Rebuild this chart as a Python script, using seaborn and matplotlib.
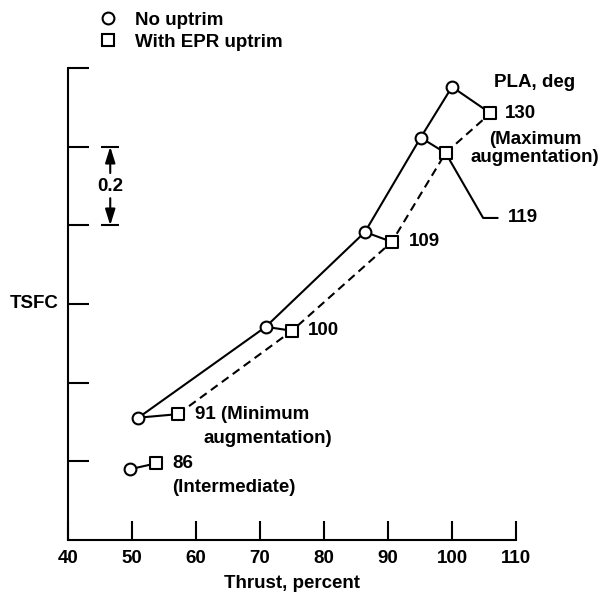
import matplotlib
matplotlib.use("Agg")
import matplotlib.pyplot as plt
import numpy as np
import pandas as pd
import seaborn as sns
from matplotlib.lines import Line2D

# ---------------- data ----------------
pla = [86, 91, 100, 109, 119, 130]
thrust_no_uptrim = [49.7, 51.0, 70.9, 86.4, 95.1, 100.0]
tsfc_no_uptrim = [0.180, 0.311, 0.542, 0.783, 1.023, 1.152]
thrust_epr_uptrim = [53.8, 57.2, 75.0, 90.6, 99.0, 106.0]
tsfc_epr_uptrim = [0.195, 0.320, 0.532, 0.758, 0.984, 1.085]
series_names = ["No uptrim", "With EPR uptrim"]
x_ticks = [40, 50, 60, 70, 80, 90, 100, 110]
y_ticks = [0.2, 0.4, 0.6, 0.8, 1.0, 1.2]

sns.set_theme(style="white")
plt.rcParams["font.family"] = ["Liberation Sans", "DejaVu Sans"]
plt.rcParams["font.weight"] = "bold"
plt.rcParams["axes.labelweight"] = "bold"
plt.rcParams["text.color"] = "black"
plt.rcParams["axes.labelcolor"] = "black"
plt.rcParams["xtick.color"] = "black"
plt.rcParams["ytick.color"] = "black"

df = pd.DataFrame({
    "pla": pla + pla,
    "thrust": thrust_no_uptrim + thrust_epr_uptrim,
    "tsfc": tsfc_no_uptrim + tsfc_epr_uptrim,
    "series": [series_names[0]] * len(pla) + [series_names[1]] * len(pla),
})

FS = 13.5
LW = 1.5
W, H = 603, 592
fig = plt.figure(figsize=(W / 100, H / 100), dpi=100)
ax = fig.add_axes([68 / W, 1 - 540 / H, 448 / W, 472 / H])

# main curves (augmented range, PLA >= 91)
main = df[df["pla"] >= 91]
sns.lineplot(data=main, x="thrust", y="tsfc", hue="series", style="series",
             palette={series_names[0]: "black", series_names[1]: "black"},
             dashes={series_names[0]: "", series_names[1]: (4, 2.5)},
             sort=False, estimator=None, legend=False, lw=LW, ax=ax)
# connectors between the two settings at each PLA
sns.lineplot(data=df, x="thrust", y="tsfc", units="pla", estimator=None,
             sort=False, color="black", lw=LW, legend=False, ax=ax)
# markers
for name, mk in zip(series_names, ["o", "s"]):
    sns.scatterplot(data=df[df["series"] == name], x="thrust", y="tsfc",
                    marker=mk, s=72, facecolor="white", edgecolor="black",
                    linewidth=LW, zorder=5, legend=False, ax=ax)

ax.set_xlim(40, 110)
ax.set_ylim(0, 1.2)
ax.set_xticks(x_ticks)
ax.set_xticklabels([str(t) for t in x_ticks], fontsize=FS, fontweight="bold")
ax.set_yticks(y_ticks)
ax.tick_params(axis="x", which="major", bottom=True, direction="in",
               length=13.7, width=LW, pad=7, colors="black")
ax.tick_params(axis="y", which="major", left=True, direction="in",
               length=15, width=LW, labelleft=False, colors="black")
for s in ["top", "right"]:
    ax.spines[s].set_visible(False)
for s in ["left", "bottom"]:
    ax.spines[s].set_linewidth(LW)
    ax.spines[s].set_color("black")
ax.set_xlabel("Thrust, percent", fontsize=FS, fontweight="bold", labelpad=6)
ax.set_ylabel("")
ax.text(-0.02, 0.5, "TSFC", transform=ax.transAxes, ha="right", va="center",
        fontsize=FS, fontweight="bold")

# 0.2 scale indicator
ax.hlines([0.8, 1.0], 45.2, 48.0, color="black", lw=LW, clip_on=False)
aprops = dict(arrowstyle="-|>,head_length=0.8,head_width=0.25",
              color="black", lw=LW, shrinkA=0, shrinkB=0)
ax.annotate("", xy=(46.6, 1.0), xytext=(46.6, 0.933), arrowprops=aprops)
ax.annotate("", xy=(46.6, 0.8), xytext=(46.6, 0.869), arrowprops=aprops)
ax.text(46.6, 0.898, "0.2", ha="center", va="center", fontsize=FS,
        fontweight="bold")

# PLA labels
def lab(i, text, dx_px, dy_px, ha="left", **kw):
    ax.annotate(text, xy=(thrust_epr_uptrim[i], tsfc_epr_uptrim[i]),
                xytext=(dx_px * 0.72, dy_px * 0.72), textcoords="offset points",
                ha=ha, va="center", fontsize=FS, fontweight="bold", **kw)

lab(5, "130", 14.3, 0)
lab(5, "(Maximum\naugmentation)", 44.8, -35, ha="center", linespacing=1.1)
ax.annotate("PLA, deg", xy=(thrust_no_uptrim[5], tsfc_no_uptrim[5]),
            xytext=(42.3 * 0.72, 4.7 * 0.72), textcoords="offset points",
            ha="left", va="center", fontsize=FS, fontweight="bold")
lab(4, "119", 62.3, -65,
    arrowprops=dict(arrowstyle="-", color="black", lw=LW, relpos=(0, 0.5),
                    shrinkA=5, shrinkB=6,
                    connectionstyle="angle,angleA=0,angleB=-60,rad=0"))
lab(3, "109", 17.3, 0)
lab(2, "100", 15.7, 0)
lab(1, "91 (Minimum", 16.7, 0)
lab(1, "augmentation)", 25.7, -24)
lab(0, "86", 16.3, 0)
lab(0, "(Intermediate)", 16.3, -24)

# legend
handles = [Line2D([], [], marker=m, ls="none", mfc="white", mec="black",
                  mew=LW, ms=8.5) for m in ["o", "s"]]
fig.legend(handles, series_names, loc="upper left",
           bbox_to_anchor=(99 / W, 1 - 11.4 / H), frameon=False,
           borderaxespad=0, borderpad=0, handlelength=1.0, handletextpad=0.9,
           labelspacing=0.26, prop={"size": FS, "weight": "bold"})

fig.savefig("out.png", dpi=100)
